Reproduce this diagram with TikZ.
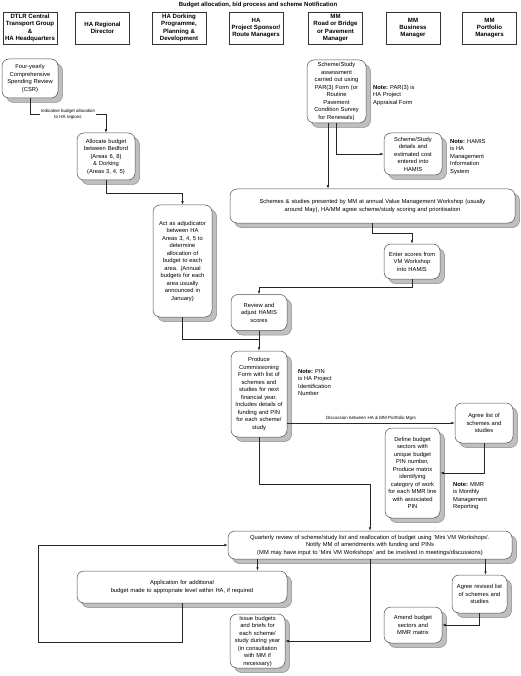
\documentclass[tikz,border=0pt]{standalone}
\usepackage{fontspec}
\setmainfont{Liberation Sans}
\usetikzlibrary{arrows.meta,shadows}
\begin{document}
\begin{tikzpicture}[x=1pt,y=-1pt,
  every node/.style={inner sep=0pt},
  hdr/.style={draw=black!80, line width=0.7pt, minimum width=54pt, minimum height=32pt, align=center, font=\fontsize{6.1}{7.3}\selectfont\bfseries},
  fbox/.style={draw=black!70, fill=white, rounded corners=7pt, line width=0.5pt, align=center, font=\fontsize{5.8}{7.5}\selectfont, copy shadow={shadow xshift=4.5pt, shadow yshift=-4.5pt, fill=black!25, draw=black!45}},
  note/.style={align=left, anchor=north west, font=\fontsize{5.8}{7.5}\selectfont},
  lbl/.style={align=center, font=\fontsize{4.5}{6.5}\selectfont, fill=white, inner sep=0.6pt},
  conn/.style={draw=black!85, line width=0.6pt},
  arr/.style={conn, -{Latex[length=3.5pt,width=2.6pt]}}
]
\useasboundingbox (0,0) rectangle (520,676);

% title
\node[font=\fontsize{6}{7}\selectfont\bfseries] (title) at (258,4.5) {Budget allocation, bid process and scheme Notification};

% headers
\node[hdr] (h1) at (30,28) {DTLR Central\\Transport Group\\\&\\HA Headquarters};
\node[hdr] (h2) at (102.5,28) {HA Regional\\Director};
\node[hdr] (h3) at (179,28) {HA Dorking\\Programme,\\Planning \&\\Development};
\node[hdr] (h4) at (256,28) {HA\\Project Sponsor/\\Route Managers};
\node[hdr] (h5) at (335.5,28) {MM\\Road or Bridge\\or Pavement\\Manager};
\node[hdr] (h6) at (413,28) {MM\\Business\\Manager};
\node[hdr] (h7) at (489.5,28) {MM\\Portfolio\\Managers};

% process boxes
\node[fbox, minimum width=56pt, minimum height=39pt, text width=54pt] (csr) at (30,78.5) {Four-yearly\\Comprehensive\\Spending Review\\(CSR)};
\node[fbox, minimum width=58pt, minimum height=47pt, text width=56pt] (alloc) at (106,156.5) {Allocate budget\\between Bedford\\(Areas 6, 8)\\\& Dorking\\(Areas 3, 4, 5)};
\node[fbox, minimum width=59pt, minimum height=112pt, text width=57pt] (act) at (182.5,261) {Act as adjudicator\\between HA\\Areas 3, 4, 5 to\\determine\\allocation of\\budget to each\\area. (Annual\\budgets for each\\area usually\\announced in\\January)};
\node[fbox, minimum width=56pt, minimum height=36pt, text width=54pt] (review) at (259,312.5) {Review and\\adjust HAMIS\\scores};
\node[fbox, minimum width=56pt, minimum height=86pt, text width=54pt] (produce) at (259,394) {Produce\\Commissioning\\Form with list of\\schemes and\\studies for next\\financial year.\\Includes details of\\funding and PIN\\for each scheme/\\study};
\node[fbox, minimum width=59pt, minimum height=63pt, text width=57pt] (sa) at (336.5,91.5) {Scheme/Study\\assessment\\carried out using\\PAR(3) Form (or\\Routine\\Pavement\\Condition Survey\\for Renewals)};
\node[fbox, minimum width=58pt, minimum height=42pt, text width=56pt] (hamis) at (413,154) {Scheme/Study\\details and\\estimated cost\\entered into\\HAMIS};
\node[fbox, minimum width=285pt, minimum height=34pt, text width=280pt] (vm) at (372.5,206) {Schemes \& studies presented by MM at annual Value Management Workshop (usually\\around May), HA/MM agree scheme/study scoring and prioritisation};
\node[fbox, minimum width=56pt, minimum height=35pt, text width=54pt] (enter) at (412,261.5) {Enter scores from\\VM Workshop\\into HAMIS};
\node[fbox, minimum width=58pt, minimum height=40pt, text width=56pt] (agree) at (484,423) {Agree list of\\schemes and\\studies};
\node[fbox, minimum width=55pt, minimum height=90pt, text width=53pt] (define) at (412.5,473) {Define budget\\sectors with\\unique budget\\PIN number,\\Produce matrix\\identifying\\category of work\\for each MMR line\\with associated\\PIN};
\node[fbox, minimum width=284pt, minimum height=28pt, text width=280pt] (quart) at (370,545) {Quarterly review of scheme/study list and reallocation of budget using `Mini VM Workshops'.\\Notify MM of amendments with funding and PINs\\(MM may have input to `Mini VM Workshops' and be involved in meetings/discussions)};
\node[fbox, minimum width=210pt, minimum height=32pt, text width=206pt] (appl) at (182,587) {Application for additional\\budget made to appropriate level within HA, if required};
\node[fbox, minimum width=55pt, minimum height=54pt, text width=53pt] (issue) at (257.5,641) {Issue budgets\\and briefs for\\each scheme/\\study during year\\(in consultation\\with MM if\\necessary)};
\node[fbox, minimum width=55pt, minimum height=38pt, text width=53pt] (arev) at (479.5,594) {Agree revised list\\of schemes and\\studies};
\node[fbox, minimum width=58pt, minimum height=36pt, text width=56pt] (amend) at (413,625) {Amend budget\\sectors and\\MMR matrix};

% notes
\node[note] (npar) at (373,85) {\textbf{Note:} PAR(3) is\\HA Project\\Appraisal Form};
\node[note] (nhamis) at (450,139) {\textbf{Note:} HAMIS\\is HA\\Management\\Information\\System};
\node[note] (npin) at (298,369) {\textbf{Note:} PIN\\is HA Project\\Identification\\Number};
\node[note] (nmmr) at (453,482) {\textbf{Note:} MMR\\is Monthly\\Management\\Reporting};

% helper coordinates
\coordinate (j1) at (259,339);
\coordinate (lpb) at (38,642);

% connectors
\draw[arr] (csr.south) -- ++(0,16) -| node[lbl, pos=0.25] {Indicative budget allocation\\to HA regions} (alloc.north);
\draw[arr] (alloc.south) -- ++(0,13) -| (act.north);
\draw[conn] (act.south) |- (j1);
\draw[arr] (review.south) -- (produce.north);
\draw[arr] (enter.south) -- ++(0,8) -| (review.north);
\draw[arr] ([xshift=-8.5pt]sa.south) -- ([xshift=-8.5pt]sa.south |- vm.north);
\draw[arr] (sa.south) |- (hamis.west);
\draw[arr] (vm.south) -- ++(0,10) -| (enter.north);
\draw[arr] (produce.east |- agree.west) -- node[above=2pt, font=\fontsize{4.5}{5.5}\selectfont] {Discussion between HA \& MM Portfolio Mgrs} (agree.west);
\draw[arr] (agree.south) |- (define.east);
\draw[arr] (produce.south) -- ++(0,47) -| (quart.north);
\draw[arr] (issue.north |- quart.south) -- (issue.north |- appl.north);
\draw[arr] (appl.south) |- (lpb) |- (quart.west);
\draw[arr] (quart.south) |- (issue.east);
\draw[arr] ([xshift=6pt]arev.north |- quart.south) -- ([xshift=6pt]arev.north);
\draw[arr] (arev.south) |- (amend.east);
\end{tikzpicture}
\end{document}
